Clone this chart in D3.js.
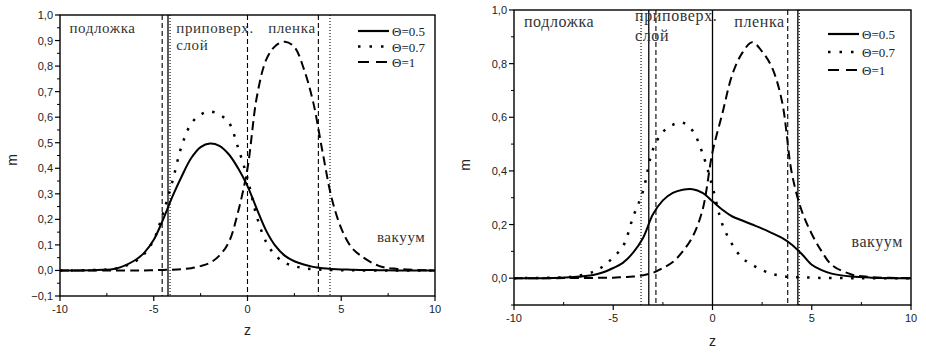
<!DOCTYPE html>
<html>
<head>
<meta charset="utf-8">
<script src="https://cdn.jsdelivr.net/npm/d3@7"></script>
<style>
    body { margin: 0; background: #fff; }
    svg { display: block; }
</style>
</head>
<body>
<div id="chart"></div>
<script>
// z grid shared by every curve
const zGrid = [-10, -8, -7, -6, -5.5, -5, -4.5, -4, -3.5, -3, -2.5, -2, -1.5, -1, -0.5, 0,
    0.5, 1, 1.5, 2, 2.5, 3, 3.5, 4, 4.5, 5, 5.5, 6, 7, 8, 10];

// left plot
const leftTheta05 = [0, 0.002, 0.008, 0.04, 0.07, 0.12, 0.2, 0.29, 0.37, 0.44, 0.483, 0.497, 0.488, 0.455, 0.40, 0.33,
    0.24, 0.155, 0.095, 0.057, 0.036, 0.023, 0.014, 0.009, 0.006, 0.004, 0.003, 0.002, 0.001, 0, 0];
const leftTheta07 = [0, 0.002, 0.008, 0.035, 0.065, 0.12, 0.225, 0.35, 0.49, 0.575, 0.61, 0.622, 0.61, 0.58, 0.48, 0.36,
    0.21, 0.11, 0.058, 0.03, 0.017, 0.009, 0.005, 0.003, 0.002, 0.001, 0.001, 0, 0, 0, 0];
const leftTheta1 = [0, 0, 0, 0, 0, 0.001, 0.002, 0.003, 0.005, 0.009, 0.017, 0.03, 0.058, 0.11, 0.23, 0.40,
    0.68, 0.825, 0.88, 0.895, 0.875, 0.79, 0.66, 0.465, 0.28, 0.165, 0.095, 0.06, 0.018, 0.006, 0];
const leftSolidMarks = [-4.24];
const leftDottedMarks = [-4.13, 4.4];
const leftDashedMarks = [-4.55, 0, 3.78];

// right plot
const rightTheta05 = [0, 0.001, 0.004, 0.012, 0.022, 0.038, 0.058, 0.095, 0.15, 0.238, 0.29, 0.318, 0.33, 0.332, 0.318, 0.287,
    0.255, 0.23, 0.215, 0.2, 0.185, 0.168, 0.15, 0.125, 0.09, 0.05, 0.03, 0.017, 0.006, 0.002, 0];
const rightTheta07 = [0, 0.002, 0.006, 0.024, 0.045, 0.078, 0.12, 0.228, 0.325, 0.48, 0.545, 0.572, 0.58, 0.55, 0.465, 0.34,
    0.2, 0.125, 0.075, 0.05, 0.03, 0.016, 0.008, 0.004, 0.003, 0.002, 0.001, 0.001, 0, 0, 0];
const rightTheta1 = [0, 0, 0.001, 0.001, 0.002, 0.002, 0.004, 0.006, 0.011, 0.02, 0.038, 0.06, 0.1, 0.155, 0.255, 0.47,
    0.615, 0.76, 0.84, 0.88, 0.845, 0.785, 0.66, 0.39, 0.25, 0.165, 0.1, 0.05, 0.014, 0.004, 0];
const rightSolidMarks = [-3.21, 0, 4.3];
const rightDottedMarks = [-3.6, 4.37];
const rightDashedMarks = [-2.85, 3.79];

const legendLabels = ["\u0398=0.5", "\u0398=0.7", "\u0398=1"];
const regionLabels = ["подложка", "приповерх.", "слой", "пленка", "вакуум"];
const xMajorTicks = [-10, -5, 0, 5, 10];
const xMinorTicks = [-7.5, -2.5, 2.5, 7.5];

const sansFont = "'Liberation Sans', Arial, sans-serif";
const serifFont = "'Liberation Serif', 'Times New Roman', serif";

const styles = {
    solid: { dash: null, width: 2 },
    dotted: { dash: "2.5,8.5", width: 2.5 },
    dashed: { dash: "9,5", width: 2 }
};
const markDash = { solid: null, dotted: "1,2", dashed: "5,3" };

const fmt = d => d3.format(".1f")(d).replace(".", ",");

const svg = d3.select("#chart").append("svg")
    .attr("width", 926)
    .attr("height", 355);

function drawPanel(p) {
    const x = d3.scaleLinear().domain([-10, 10]).range([p.left, p.right]);
    const y = d3.scaleLinear().domain([-0.1, 1.0]).range([p.bottom, p.top]);
    const g = svg.append("g");

    const clipId = "clip-" + p.name;
    g.append("clipPath").attr("id", clipId)
        .append("rect")
        .attr("x", p.left).attr("y", p.top)
        .attr("width", p.right - p.left).attr("height", p.bottom - p.top);

    // vertical interface lines
    [["solid", p.solidMarks], ["dotted", p.dottedMarks], ["dashed", p.dashedMarks]].forEach(([kind, marks]) => {
        g.selectAll(null).data(marks).enter().append("line")
            .attr("x1", d => x(d)).attr("x2", d => x(d))
            .attr("y1", y(1.0)).attr("y2", y(-0.1))
            .attr("stroke", "#000")
            .attr("stroke-width", kind === "solid" ? 1.3 : 1.1)
            .attr("stroke-dasharray", markDash[kind]);
    });

    const line = d3.line()
        .x((d, i) => x(zGrid[i]))
        .y(d => y(d))
        .curve(d3.curveCatmullRom.alpha(0.5));

    [["solid", p.theta05], ["dotted", p.theta07], ["dashed", p.theta1]].forEach(([kind, vals]) => {
        g.append("path")
            .datum(vals)
            .attr("clip-path", `url(#${clipId})`)
            .attr("fill", "none")
            .attr("stroke", "#000")
            .attr("stroke-width", styles[kind].width)
            .attr("stroke-dasharray", styles[kind].dash)
            .attr("d", line);
    });

    // frame
    g.append("rect")
        .attr("x", p.left).attr("y", p.top)
        .attr("width", p.right - p.left).attr("height", p.bottom - p.top)
        .attr("fill", "none").attr("stroke", "#000").attr("stroke-width", 1.4);

    // x axis ticks
    g.selectAll(null).data(xMajorTicks).enter().append("line")
        .attr("x1", d => x(d)).attr("x2", d => x(d))
        .attr("y1", p.bottom).attr("y2", p.bottom + 5)
        .attr("stroke", "#000").attr("stroke-width", 1.2);
    g.selectAll(null).data(xMinorTicks).enter().append("line")
        .attr("x1", d => x(d)).attr("x2", d => x(d))
        .attr("y1", p.bottom).attr("y2", p.bottom - 3)
        .attr("stroke", "#000").attr("stroke-width", 1);
    g.selectAll(null).data(xMajorTicks).enter().append("text")
        .attr("font-family", sansFont).attr("font-size", 11).attr("fill", "#222")
        .attr("x", d => x(d)).attr("y", p.bottom + 17)
        .attr("text-anchor", "middle")
        .text(d => d);

    // y axis ticks
    g.selectAll(null).data(p.yMajor).enter().append("line")
        .attr("x1", p.left - 5).attr("x2", p.left)
        .attr("y1", d => y(d)).attr("y2", d => y(d))
        .attr("stroke", "#000").attr("stroke-width", 1.2);
    g.selectAll(null).data(p.yMinor).enter().append("line")
        .attr("x1", p.left - 3).attr("x2", p.left)
        .attr("y1", d => y(d)).attr("y2", d => y(d))
        .attr("stroke", "#000").attr("stroke-width", 1);
    g.selectAll(null).data(p.yLabels).enter().append("text")
        .attr("font-family", sansFont).attr("font-size", 11).attr("fill", "#222")
        .attr("x", p.left - 7).attr("y", d => y(d) + 4)
        .attr("text-anchor", "end")
        .text(d => fmt(d));

    g.append("text")
        .attr("font-family", sansFont).attr("font-size", 14).attr("fill", "#222")
        .attr("transform", `translate(${p.mX},${p.mY}) rotate(-90)`)
        .attr("text-anchor", "middle")
        .text("m");
    g.append("text")
        .attr("font-family", sansFont).attr("font-size", 14).attr("fill", "#222")
        .attr("x", x(0)).attr("y", p.zY)
        .attr("text-anchor", "middle")
        .text("z");

    // region labels
    p.regions.forEach((r, i) => {
        g.append("text")
            .attr("font-family", serifFont).attr("font-size", p.regionFont).attr("fill", "#333")
            .attr("letter-spacing", 0.6)
            .attr("x", x(r[0])).attr("y", y(r[1]))
            .text(regionLabels[i]);
    });

    // legend
    ["solid", "dotted", "dashed"].forEach((kind, i) => {
        const ly = p.legendY + i * p.legendStep;
        g.append("line")
            .attr("x1", p.legendX).attr("x2", p.legendX + 31)
            .attr("y1", ly).attr("y2", ly)
            .attr("stroke", "#000")
            .attr("stroke-width", kind === "dotted" ? 2.5 : 2.2)
            .attr("stroke-dasharray", kind === "dotted" ? "2.5,9" : kind === "dashed" ? "11,7" : null);
        g.append("text")
            .attr("font-family", serifFont).attr("font-size", 13).attr("fill", "#222")
            .attr("x", p.legendX + 34).attr("y", ly + 5)
            .text(legendLabels[i]);
    });
}

// region label anchors: [z, m] for подложка, приповерх., слой, пленка, вакуум
drawPanel({
    name: "left", left: 60, right: 435, top: 15, bottom: 296,
    theta05: leftTheta05, theta07: leftTheta07, theta1: leftTheta1,
    solidMarks: leftSolidMarks, dottedMarks: leftDottedMarks, dashedMarks: leftDashedMarks,
    yMajor: d3.range(-0.1, 1.001, 0.1), yMinor: d3.range(-0.05, 1.0, 0.1), yLabels: d3.range(-0.1, 1.001, 0.1),
    mX: 17, mY: 160, zY: 335,
    regions: [[-9.5, 0.93], [-3.8, 0.93], [-3.8, 0.862], [1.1, 0.93], [6.9, 0.113]],
    regionFont: 15,
    legendX: 358, legendY: 31, legendStep: 15.5
});

drawPanel({
    name: "right", left: 514, right: 911, top: 10, bottom: 305,
    theta05: rightTheta05, theta07: rightTheta07, theta1: rightTheta1,
    solidMarks: rightSolidMarks, dottedMarks: rightDottedMarks, dashedMarks: rightDashedMarks,
    yMajor: d3.range(0, 1.001, 0.2), yMinor: d3.range(-0.1, 1.0, 0.2), yLabels: d3.range(0, 1.001, 0.2),
    mX: 470, mY: 165, zY: 346,
    regions: [[-9.5, 0.937], [-3.9, 0.958], [-3.9, 0.883], [1.1, 0.937], [7.0, 0.116]],
    regionFont: 16,
    legendX: 828, legendY: 34, legendStep: 18
});
</script>
</body>
</html>
